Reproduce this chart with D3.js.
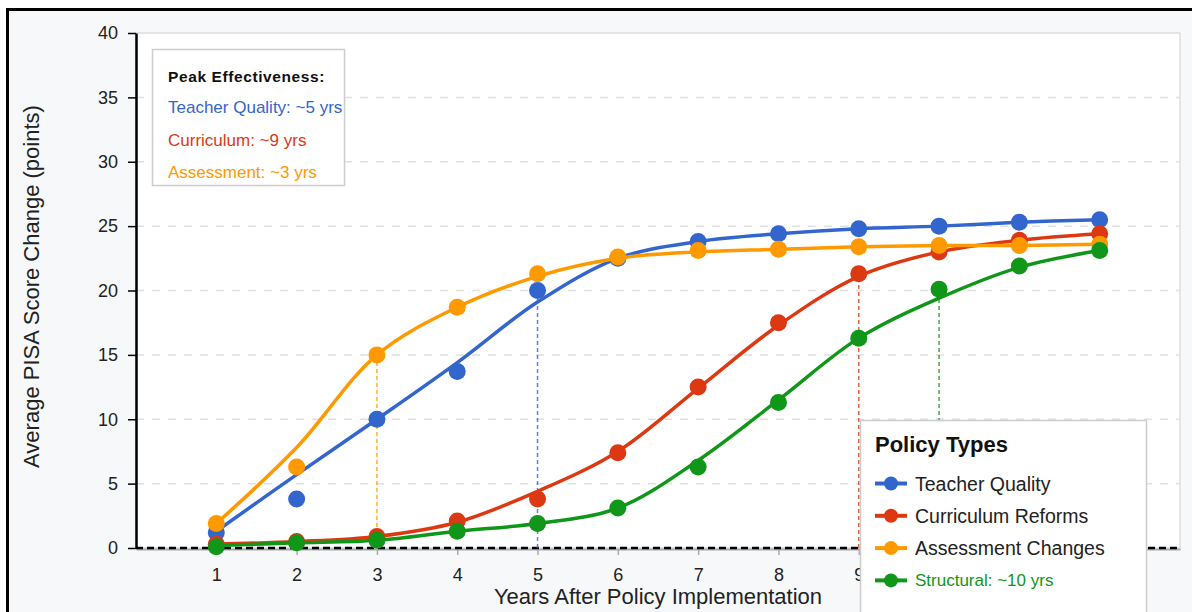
<!DOCTYPE html>
<html>
<head>
<meta charset="utf-8">
<script src="https://cdn.jsdelivr.net/npm/d3@7"></script>
<style>
  html, body { margin: 0; padding: 0; background: #ffffff; }
  svg { display: block; font-family: "Liberation Sans", Arial, sans-serif; }
</style>
</head>
<body>
<svg id="chart" width="1192" height="612"></svg>
<script>
// Years since the policy was introduced
const years = [1, 2, 3, 4, 5, 6, 7, 8, 9, 10, 11, 12];

// Policy series (legend order) and their colours
const seriesNames = ["Teacher Quality", "Curriculum Reforms", "Assessment Changes", "Structural"];
const shortNames = ["Teacher Quality", "Curriculum", "Assessment", "Structural"];
const seriesColors = ["#3366cc", "#dc3912", "#ff9900", "#109618"];

// Observed average PISA score change (points) per year
const teacherObs    = [1.2, 3.8, 10.0, 13.7, 20.0, 22.5, 23.8, 24.4, 24.8, 25.0, 25.3, 25.5];
const curriculumObs = [0.3, 0.5, 0.9, 2.1, 3.8, 7.4, 12.5, 17.5, 21.3, 23.0, 23.9, 24.4];
const assessmentObs = [1.9, 6.3, 15.0, 18.7, 21.3, 22.6, 23.1, 23.2, 23.4, 23.5, 23.5, 23.6];
const structuralObs = [0.1, 0.4, 0.6, 1.3, 1.9, 3.1, 6.3, 11.3, 16.3, 20.1, 21.9, 23.1];

// Smoothed trend per year
const teacherTrend    = [1.3, 5.7, 10.0, 14.4, 19.1, 22.5, 23.8, 24.4, 24.8, 25.0, 25.3, 25.5];
const curriculumTrend = [0.3, 0.5, 0.9, 2.0, 4.4, 7.5, 12.4, 17.3, 21.1, 23.0, 23.9, 24.4];
const assessmentTrend = [1.9, 7.8, 15.0, 18.7, 21.1, 22.5, 23.0, 23.2, 23.4, 23.5, 23.5, 23.6];
const structuralTrend = [0.2, 0.4, 0.6, 1.3, 1.9, 3.1, 6.8, 11.5, 16.3, 19.4, 21.8, 23.1];

// Year of peak effectiveness for each policy type
const peakYears = [5, 9, 3, 10];

// Axis ticks (years 10-12 sit under the legend, so they carry no label)
const xTicks = years;
const xTickLabels = ["1", "2", "3", "4", "5", "6", "7", "8", "9", "", "", ""];
const yTicks = [0, 5, 10, 15, 20, 25, 30, 35, 40];

const observed = [teacherObs, curriculumObs, assessmentObs, structuralObs];
const trends = [teacherTrend, curriculumTrend, assessmentTrend, structuralTrend];

const svg = d3.select("#chart");
const plot = { left: 136, top: 33, right: 1180, bottom: 548 };

// Page background with frame
svg.append("rect")
  .attr("x", 7.5).attr("y", 9.5).attr("width", 1300).attr("height", 800)
  .attr("fill", "#f7f8fa").attr("stroke", "#000").attr("stroke-width", 3);

const x = d3.scaleLinear().domain([0, 13]).range([plot.left, plot.right]);
const y = d3.scaleLinear().domain([0, 40]).range([plot.bottom, plot.top]);

// Plot area
svg.append("rect")
  .attr("x", plot.left).attr("y", plot.top)
  .attr("width", plot.right - plot.left).attr("height", plot.bottom - plot.top)
  .attr("fill", "#ffffff").attr("stroke", "#dddddd").attr("stroke-width", 1.5);

// Horizontal grid
svg.append("g")
  .selectAll("line")
  .data(yTicks.filter(v => v > 0 && v < 40))
  .join("line")
  .attr("x1", plot.left).attr("x2", plot.right)
  .attr("y1", d => y(d)).attr("y2", d => y(d))
  .attr("stroke", "#e0e0e0").attr("stroke-width", 1.5)
  .attr("stroke-dasharray", "8,8");

// X axis
const xAxis = svg.append("g")
  .attr("transform", `translate(0,${plot.bottom + 1})`)
  .call(d3.axisBottom(x).tickValues(xTicks)
    .tickFormat((d, i) => xTickLabels[i])
    .tickSize(6).tickPadding(13).tickSizeOuter(0));
xAxis.select(".domain").attr("stroke", "#aaaaaa").attr("stroke-width", 2);
xAxis.selectAll(".tick line").attr("stroke", "#aaaaaa").attr("stroke-width", 1.5);
xAxis.selectAll(".tick text").attr("font-size", 18).attr("fill", "#222")
  .attr("font-family", "Liberation Sans, Arial, sans-serif");

// Zero baseline
svg.append("line")
  .attr("x1", plot.left).attr("x2", plot.right)
  .attr("y1", y(0)).attr("y2", y(0))
  .attr("stroke", "#000").attr("stroke-width", 2.5)
  .attr("stroke-dasharray", "7,4");

// Y axis
const yAxis = svg.append("g")
  .attr("transform", `translate(${plot.left},0)`)
  .call(d3.axisLeft(y).tickValues(yTicks).tickSize(8).tickPadding(10).tickSizeOuter(0));
yAxis.select(".domain").attr("stroke", "#000").attr("stroke-width", 2.5);
yAxis.selectAll(".tick line").attr("stroke", "#000").attr("stroke-width", 1.5);
yAxis.selectAll(".tick text").attr("font-size", 18).attr("fill", "#222")
  .attr("font-family", "Liberation Sans, Arial, sans-serif");

// Axis titles
svg.append("text")
  .attr("x", (plot.left + plot.right) / 2).attr("y", 604)
  .attr("text-anchor", "middle").attr("font-size", 22).attr("fill", "#222")
  .text("Years After Policy Implementation");
svg.append("text")
  .attr("transform", `translate(39,${(plot.top + plot.bottom) / 2 - 4}) rotate(-90)`)
  .attr("text-anchor", "middle").attr("font-size", 22).attr("fill", "#222")
  .text("Average PISA Score Change (points)");

// Drop lines at each policy's peak year
svg.append("g")
  .selectAll("line")
  .data(peakYears.map((yr, i) => ({ yr, v: observed[i][years.indexOf(yr)], c: seriesColors[i] })))
  .join("line")
  .attr("x1", d => x(d.yr)).attr("x2", d => x(d.yr))
  .attr("y1", y(0)).attr("y2", d => y(d.v))
  .attr("stroke", d => d.c).attr("stroke-width", 1.5)
  .attr("stroke-opacity", 0.8)
  .attr("stroke-dasharray", "4,3");

// Trend lines and observed points
const line = d3.line()
  .x((d, i) => x(years[i]))
  .y(d => y(d))
  .curve(d3.curveCatmullRom.alpha(0.5));

seriesNames.forEach((name, i) => {
  const g = svg.append("g");
  g.append("path")
    .attr("d", line(trends[i]))
    .attr("fill", "none")
    .attr("stroke", seriesColors[i])
    .attr("stroke-width", 3.5)
    .attr("stroke-linecap", "round");
  g.selectAll("circle")
    .data(observed[i])
    .join("circle")
    .attr("cx", (d, j) => x(years[j]))
    .attr("cy", d => y(d))
    .attr("r", 8.5)
    .attr("fill", seriesColors[i]);
});

// Peak effectiveness note
const note = svg.append("g");
note.append("rect")
  .attr("x", 152.5).attr("y", 49.5).attr("width", 192).attr("height", 136)
  .attr("fill", "#ffffff").attr("stroke", "#cccccc").attr("stroke-width", 1.5);
note.append("text")
  .attr("x", 168).attr("y", 82)
  .attr("font-size", 15.5).attr("font-weight", "bold").attr("fill", "#111")
  .attr("letter-spacing", 0.6)
  .text("Peak Effectiveness:");
[0, 1, 2].forEach((i, k) => {
  note.append("text")
    .attr("x", 168).attr("y", 113 + k * 32.5)
    .attr("font-size", 17).attr("fill", seriesColors[i])
    .text(`${shortNames[i]}: ~${peakYears[i]} yrs`);
});

// Legend
const legend = svg.append("g");
legend.append("rect")
  .attr("x", 860.5).attr("y", 420.5).attr("width", 286).attr("height", 220)
  .attr("fill", "#ffffff").attr("stroke", "#cccccc").attr("stroke-width", 1.5);
legend.append("text")
  .attr("x", 875).attr("y", 452)
  .attr("font-size", 22).attr("font-weight", "bold").attr("fill", "#111")
  .text("Policy Types");
seriesNames.forEach((name, i) => {
  const cy = 483.5 + i * 32.3;
  legend.append("line")
    .attr("x1", 875).attr("x2", 907).attr("y1", cy).attr("y2", cy)
    .attr("stroke", seriesColors[i]).attr("stroke-width", 4);
  legend.append("circle")
    .attr("cx", 891).attr("cy", cy).attr("r", 7)
    .attr("fill", seriesColors[i]);
  const isLast = i === seriesNames.length - 1;
  legend.append("text")
    .attr("x", 915).attr("y", cy + (isLast ? 6 : 7))
    .attr("font-size", isLast ? 17 : 19.5)
    .attr("fill", isLast ? seriesColors[i] : "#222")
    .text(isLast ? `${shortNames[i]}: ~${peakYears[i]} yrs` : name);
});
</script>
</body>
</html>
